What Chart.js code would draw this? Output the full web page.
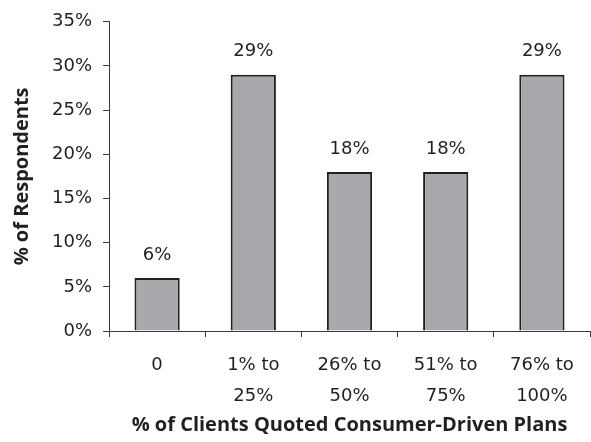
<!DOCTYPE html>
<html>
<head>
<meta charset="utf-8">
<script src="https://cdn.jsdelivr.net/npm/chart.js@4"></script>
<style>
  html, body { margin: 0; padding: 0; background: #fff; }
  #wrap { width: 591px; height: 442px; }
</style>
</head>
<body>
<div id="wrap"><canvas id="myChart" width="591" height="442"></canvas></div>
<script>
// data
const categories = [["0"], ["1% to", "25%"], ["26% to", "50%"], ["51% to", "75%"], ["76% to", "100%"]];
const respondents = [6, 29, 18, 18, 29];
const yTicks = [0, 5, 10, 15, 20, 25, 30, 35];

const ink = "#231F20";
const axisColor = "#3c3c3c";
const tickFont = "'DejaVu Sans', sans-serif";
const titleFont = "'Open Sans', sans-serif";

// draws the value labels above each bar
const valueLabels = {
    id: "valueLabels",
    afterDatasetsDraw(chart) {
        const ctx = chart.ctx;
        const meta = chart.getDatasetMeta(0);
        ctx.save();
        ctx.font = "18px " + tickFont;
        ctx.fillStyle = ink;
        ctx.textAlign = "center";
        ctx.textBaseline = "middle";
        meta.data.forEach((bar, i) => {
            ctx.fillText(respondents[i] + "%", bar.x, bar.y - 23);
        });
        ctx.restore();
    }
};

const data = {
    labels: categories,
    datasets: [{
        label: "% of Respondents",
        data: respondents,
        backgroundColor: "#A7A9AC",
        borderColor: ink,
        borderWidth: 2,
        borderSkipped: "bottom",
        categoryPercentage: 1,
        barPercentage: 0.47
    }]
};

const config = {
    type: "bar",
    data: data,
    plugins: [valueLabels],
    options: {
        responsive: false,
        animation: false,
        layout: {
            padding: { top: 20, right: 1, bottom: 0, left: 0 }
        },
        plugins: {
            legend: { display: false },
            tooltip: { enabled: false }
        },
        scales: {
            x: {
                afterFit: (scale) => { scale.height = 111; },
                grid: {
                    offset: true,
                    drawOnChartArea: false,
                    tickLength: 6,
                    color: axisColor
                },
                border: { color: axisColor, width: 1 },
                ticks: {
                    color: ink,
                    padding: 13,
                    font: { family: tickFont, size: 18, lineHeight: 1.7 }
                },
                title: {
                    display: true,
                    text: "% of Clients Quoted Consumer-Driven Plans",
                    color: ink,
                    padding: { top: 0, bottom: 5 },
                    font: { family: titleFont, size: 20, weight: "bold", lineHeight: 1.2 }
                }
            },
            y: {
                min: 0,
                max: 35,
                afterFit: (scale) => { scale.width = 109; },
                afterBuildTicks: (scale) => {
                    scale.ticks = yTicks.map(v => ({ value: v }));
                },
                grid: {
                    drawOnChartArea: false,
                    tickLength: 6,
                    color: axisColor
                },
                border: { color: axisColor, width: 1 },
                ticks: {
                    color: ink,
                    padding: 11,
                    font: { family: tickFont, size: 18 },
                    callback: (v) => v + "%"
                },
                title: {
                    display: true,
                    text: "% of Respondents",
                    color: ink,
                    padding: { top: 10, bottom: 0 },
                    font: { family: titleFont, size: 20, weight: "bold", lineHeight: 1.2 }
                }
            }
        }
    }
};

const myChart = new Chart(document.getElementById("myChart"), config);
</script>
</body>
</html>
